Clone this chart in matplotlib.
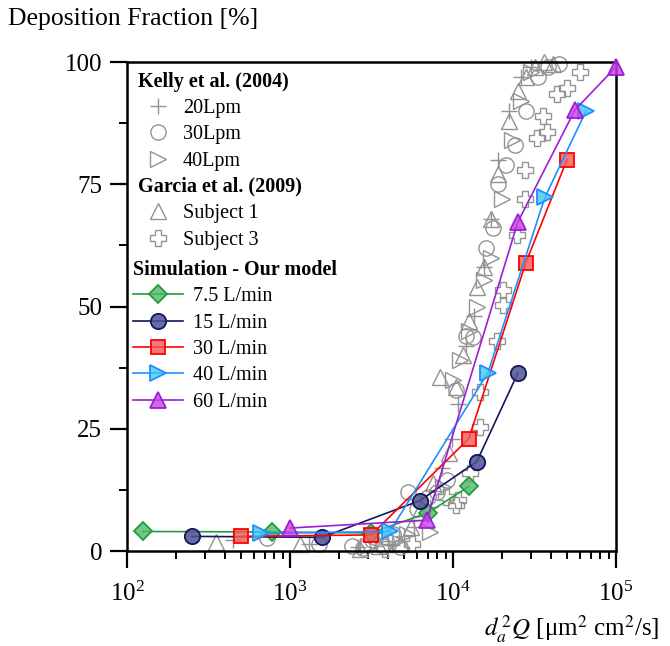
import matplotlib
matplotlib.use('Agg')
import matplotlib.pyplot as plt
from matplotlib.ticker import MultipleLocator, LogLocator, NullFormatter

# --- experimental data (grey) ---
kelly20_x = [450, 1300, 2600, 3300, 4200, 5000, 5800, 7200, 8500, 9800, 10800, 12000,
             13500, 15500, 17000, 19000, 22000, 26000, 30000]
kelly20_y = [2.2, 1.5, 0.8, 2.0, 1.2, 3.0, 5.0, 9.0, 17.0, 23.0, 30.0, 42.0,
             48.0, 58.0, 68.0, 80.0, 90.0, 97.0, 99.0]

kelly30_x = [720, 1500, 2400, 2800, 3200, 3700, 4300, 4700, 5300, 6000, 7000, 8000, 9200,
             10500, 12000, 13300, 16000, 17600, 19000, 21000, 24000, 28000, 33000, 38000, 45000]
kelly30_y = [2.7, 1.5, 1.0, 0.6, 2.2, 1.0, 3.5, 0.8, 12.0, 8.5, 11.0, 12.0, 14.5,
             33.0, 44.0, 43.8, 62.0, 66.0, 75.0, 79.0, 83.0, 90.0, 97.0, 99.0, 99.5]

kelly40_x = [3000, 4500, 5200, 7200, 8700, 10000, 11000, 12500, 14000, 15500, 17000,
             20000, 23000, 26000, 30000]
kelly40_y = [1.0, 2.0, 3.5, 3.9, 13.0, 35.0, 39.0, 45.0, 50.0, 55.5, 60.0,
             72.0, 84.0, 92.0, 98.0]

garcia1_x = [350, 1150, 2700, 3500, 4000, 4800, 5500, 6200, 7500, 8300, 9500, 10500, 11500,
             12500, 14000, 15500, 17000, 19000, 22000, 25000, 28000, 32000, 36000, 41000]
garcia1_y = [1.8, 1.5, 0.5, 1.0, 3.0, 1.5, 5.0, 8.0, 14.0, 35.5, 20.0, 33.5, 40.0,
             47.0, 54.0, 58.0, 68.0, 77.0, 88.0, 94.0, 97.0, 99.0, 100.0, 99.5]

garcia3_x = [3800, 5600, 9000, 10500, 10800, 12700, 14700, 14700, 18700, 20300, 20300,
             24600, 27600, 27600, 32700, 35600, 37800, 43600, 50000, 60000]
garcia3_y = [0.5, 1.5, 11.0, 9.4, 10.4, 16.0, 25.4, 32.5, 43.0, 50.3, 53.4,
             64.6, 72.0, 78.0, 84.5, 89.0, 85.7, 93.5, 94.7, 98.0]

# --- simulation ---
sim75_x = [125, 780, 3130, 7000, 12500]
sim75_y = [4.0, 3.9, 3.7, 7.8, 13.2]
sim15_x = [250, 1570, 6250, 14000, 25000]
sim15_y = [3.0, 2.8, 10.3, 18.3, 36.4]
sim30_x = [500, 3150, 12500, 28000, 50000]
sim30_y = [3.0, 3.3, 23.0, 59.0, 80.0]
sim40_x = [660, 4100, 16400, 36600, 65500]
sim40_y = [3.6, 4.0, 36.5, 72.3, 90.0]
sim60_x = [1000, 6900, 25000, 56000, 100000]
sim60_y = [4.7, 6.3, 67.3, 90.2, 99.0]

plt.rcParams['font.family'] = ['Liberation Serif', 'DejaVu Serif']
plt.rcParams['mathtext.fontset'] = 'stix'

fig = plt.figure(figsize=(6.7, 6.46), dpi=100)
ax = fig.add_axes([0.1896, 0.147, 0.7298, 0.757])

grey = '#939393'
ms = 10
k1, = ax.plot(kelly20_x, kelly20_y, '+', ms=ms + 2, mec=grey, mew=1.0, ls='none', clip_on=False)
k2, = ax.plot(kelly30_x, kelly30_y, 'o', ms=ms + 1, mfc='none', mec=grey, mew=1.0, ls='none', clip_on=False)
k3, = ax.plot(kelly40_x, kelly40_y, '>', ms=ms + 1, mfc='none', mec=grey, mew=1.0, ls='none', clip_on=False)
g1, = ax.plot(garcia1_x, garcia1_y, '^', ms=ms + 1, mfc='none', mec=grey, mew=1.0, ls='none', clip_on=False)
g3, = ax.plot(garcia3_x, garcia3_y, 'P', ms=ms + 2, mfc='none', mec=grey, mew=1.0, ls='none', clip_on=False)

sims = [
    (sim75_x, sim75_y, 'D', '#1f9e3a', (0.30, 0.72, 0.42, 0.8), 9, '7.5 L/min'),
    (sim15_x, sim15_y, 'o', '#15145e', (0.30, 0.32, 0.58, 0.85), 11, '15 L/min'),
    (sim30_x, sim30_y, 's', '#ff0000', (0.95, 0.35, 0.35, 0.8), 10, '30 L/min'),
    (sim40_x, sim40_y, '>', '#1e8fff', (0.25, 0.78, 0.97, 0.8), 12, '40 L/min'),
    (sim60_x, sim60_y, '^', '#9a1fd6', (0.80, 0.25, 0.90, 0.8), 11, '60 L/min'),
]
sim_handles = []
for xs, ys, mk, ec, fc, size, lab in sims:
    h, = ax.plot(xs, ys, marker=mk, color=ec, mec=ec, mfc=fc, ms=size, lw=1.2,
                 mew=1.3, label=lab, zorder=5, clip_on=False)
    sim_handles.append(h)

ax.set_xscale('log')
ax.set_xlim(100, 1e5)
ax.set_ylim(0, 100)
ax.yaxis.set_major_locator(MultipleLocator(25))
ax.yaxis.set_minor_locator(MultipleLocator(12.5))
ax.xaxis.set_minor_locator(LogLocator(base=10, subs=range(2, 10)))
ax.xaxis.set_minor_formatter(NullFormatter())

for s in ax.spines.values():
    s.set_linewidth(1.8)
ax.tick_params(which='major', direction='out', length=12, width=1.6, labelsize=18, pad=6,
               top=False, right=False)
ax.tick_params(which='minor', direction='out', length=6, width=1.4, top=False, right=False)
ax.tick_params(axis='x', which='major', pad=10)

fig.text(0.012, 0.97, 'Deposition Fraction [%]', fontsize=18.5, va='center', ha='left')
ax.set_xlabel(r'$d_a^{\,2}Q$ [μm$^2$ cm$^2$/s]', fontsize=18, loc='right', labelpad=4)
ax.xaxis.set_label_coords(1.088, -0.128)

fs = 14.5
leg_kw = dict(frameon=False, fontsize=fs, alignment='left', borderpad=0, borderaxespad=0,
              title_fontproperties={'weight': 'bold', 'size': fs}, labelspacing=0.36)
leg1 = ax.legend([k1, k2, k3], ['20Lpm', '30Lpm', '40Lpm'], title='Kelly et al. (2004)',
                 loc='upper left', bbox_to_anchor=(0.022, 0.98), handlelength=2.0,
                 handletextpad=0.25, **leg_kw)
ax.add_artist(leg1)
leg2 = ax.legend([g1, g3], ['Subject 1', 'Subject 3'], title='Garcia et al. (2009)',
                 loc='upper left', bbox_to_anchor=(0.022, 0.765), handlelength=2.0,
                 handletextpad=0.25, **leg_kw)
ax.add_artist(leg2)
leg3 = ax.legend(sim_handles, [h.get_label() for h in sim_handles],
                 title='Simulation - Our model', loc='upper left',
                 bbox_to_anchor=(0.012, 0.595), handlelength=2.5, handletextpad=0.5,
                 **leg_kw)

fig.savefig('out.png', dpi=100)
